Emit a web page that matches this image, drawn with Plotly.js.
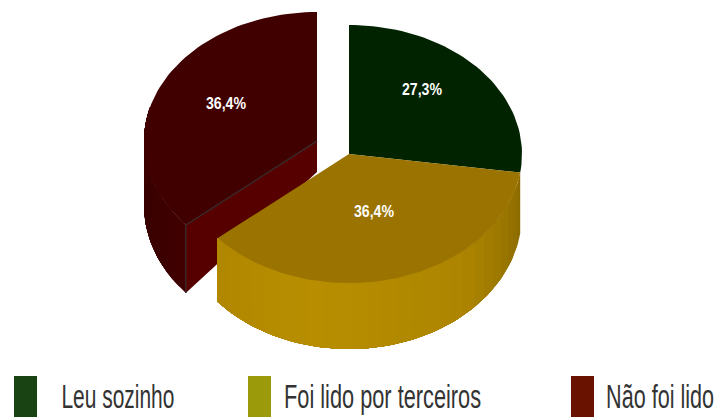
<!DOCTYPE html>
<html>
<head>
<meta charset="utf-8">
<script src="https://cdn.plot.ly/plotly-3.0.1.min.js"></script>
<style>html,body{margin:0;padding:0;background:#fff;overflow:hidden}#chart{width:718px;height:417px}</style>
</head>
<body>
<div id="chart"></div>
<script>
// Reading outcome shares, in percent
const categories = ['Leu sozinho', 'Foi lido por terceiros', 'Não foi lido'];
const shares = [27.3, 36.4, 36.4];
const legendColors = ['#1a4313', '#9a9a0a', '#6a1200'];

// Pie projection, in plot units
const RX = 173, RY = 129, RY_BASE = 135, BASE_DROP = 60;
const CENTER = {x: 349, y: 154};
const EXPLODED = {x: 317, y: 141};
const FONT = '"Liberation Sans", sans-serif';

const rim = (c, deg) => {
  const a = deg * Math.PI / 180;
  return [c.x + RX * Math.sin(a), c.y - RY * Math.cos(a)];
};
const base = (c, deg, extra) => {
  const a = deg * Math.PI / 180;
  return [c.x + RX * Math.sin(a), c.y + BASE_DROP + (extra || 0) - RY_BASE * Math.cos(a)];
};
const arc = (fn, from, to, step) => {
  const pts = [], n = Math.max(2, Math.ceil(Math.abs(to - from) / (step || 2)));
  for (let i = 0; i <= n; i++) pts.push(fn(from + (to - from) * i / n));
  return pts;
};
const poly = (pts, fill, name) => ({
  type: 'scatter', mode: 'lines', name,
  x: pts.map(p => p[0]), y: pts.map(p => p[1]),
  fill: 'toself', fillcolor: fill,
  line: {color: fill, width: 0},
  hoverinfo: 'skip', showlegend: false
});
const ramp = (stops, t) => {
  let i = 0;
  while (i < stops.length - 2 && t > stops[i + 1][0]) i++;
  const k = (t - stops[i][0]) / (stops[i + 1][0] - stops[i][0]);
  const c = stops[i][1].map((v, j) => Math.round(v + (stops[i + 1][1][j] - v) * k));
  return `rgb(${c.join(',')})`;
};
// Curved side painted in overlapping bands, so no seams show between them
const shadedSide = (c, from, to, bands, colorAt, extra, name) => {
  const out = [];
  for (let i = 0; i < bands; i++) {
    const start = from + (to - from) * i / bands;
    out.push(poly(
      [...arc(d => rim(c, d), start, to), ...arc(d => base(c, d, extra), to, start)],
      colorAt((i + 0.5) / bands), name));
  }
  return out;
};

// Slice boundaries, clockwise from twelve o'clock
const ends = [];
shares.reduce((sum, v, i) => (ends[i] = sum + v * 3.6, ends[i]), 0);
ends[2] = 360;
const [a1, a2] = ends;

const traces = [];

// Detached slice: shaded side, top face, then the cut wall
const RED_SIDE = [[0, [64, 0, 0]], [0.6, [56, 0, 0]], [1, [64, 0, 0]]];
traces.push(...shadedSide(EXPLODED, a2, 285, 16, t => ramp(RED_SIDE, t), 4, 'side ' + categories[2]));
traces.push(poly(
  [[EXPLODED.x, EXPLODED.y], ...arc(d => rim(EXPLODED, d), a2, 360)],
  '#400000', categories[2]));
const wallOuterTop = rim(EXPLODED, a2);
const wallOuterBase = base(EXPLODED, a2, 4);
traces.push(poly(
  [[EXPLODED.x, EXPLODED.y], wallOuterTop, wallOuterBase, [EXPLODED.x, EXPLODED.y + 31]],
  '#570000', 'wall ' + categories[2]));
traces.push({
  type: 'scatter', mode: 'lines', hoverinfo: 'skip', showlegend: false,
  x: [EXPLODED.x, wallOuterTop[0], wallOuterBase[0]],
  y: [EXPLODED.y, wallOuterTop[1], wallOuterBase[1]],
  line: {color: '#3a2626', width: 1.5}
});

// Curved side of the lower slice
const GOLD_SIDE = [[0, [138, 106, 0]], [0.3, [172, 132, 0]], [0.7, [184, 142, 0]], [1, [176, 134, 0]]];
traces.push(...shadedSide(CENTER, a1, a2, 26, t => ramp(GOLD_SIDE, t), 0, 'side ' + categories[1]));

// Top faces
traces.push(poly(
  [[CENTER.x, CENTER.y], ...arc(d => rim(CENTER, d), 0, a1)],
  '#012300', categories[0]));
traces.push(poly(
  [[CENTER.x, CENTER.y], ...arc(d => rim(CENTER, d), a1, a2)],
  '#9a7300', categories[1]));

// Percentage labels
const fmt = v => v.toFixed(1).replace('.', ',') + '%';
const labelSpots = [[422, 91], [374, 213], [226, 105]];
traces.push({
  type: 'scatter', mode: 'text', hoverinfo: 'skip', showlegend: false,
  x: labelSpots.map(p => p[0]), y: labelSpots.map(p => p[1]),
  text: shares.map(fmt), textposition: 'middle center',
  textfont: {family: FONT, size: 16, color: '#ffffff', weight: 700}
});

// Legend row along the lower edge; texts are aligned on their right ends
const legendSwatchX = [14, 248, 571];
const legendTextEnd = [175, 482, 715];
const legendTextWidth = [113, 197, 108];
const shapes = categories.map((c, i) => ({
  type: 'rect', xref: 'x', yref: 'y', layer: 'above',
  x0: legendSwatchX[i], x1: legendSwatchX[i] + 23, y0: 376, y1: 417,
  fillcolor: legendColors[i], line: {width: 0}
}));
const annotations = categories.map((c, i) => ({
  xref: 'x', yref: 'y', x: legendTextEnd[i], y: 396, text: c,
  xanchor: 'right', yanchor: 'middle', align: 'right', showarrow: false, borderpad: 0,
  font: {family: FONT, size: 34, color: '#333333'}
}));

const hidden = {visible: false, fixedrange: true};
Plotly.newPlot('chart', traces, {
  width: 718, height: 417,
  margin: {l: 0, r: 0, t: 0, b: 0},
  paper_bgcolor: '#ffffff', plot_bgcolor: '#ffffff',
  xaxis: {...hidden, range: [0, 718]},
  yaxis: {...hidden, range: [417, 0]},
  showlegend: false, shapes, annotations
}, {staticPlot: true, displayModeBar: false}).then(gd => {
  // The condensed look of the lettering comes from fitting each text to a set width
  const fit = (el, w) => {
    el.setAttribute('textLength', w);
    el.setAttribute('lengthAdjust', 'spacingAndGlyphs');
  };
  gd.querySelectorAll('.annotation-text').forEach((el, i) => fit(el, legendTextWidth[i]));
  gd.querySelectorAll('.textpoint text').forEach(el => fit(el, 40));
});
</script>
</body>
</html>
